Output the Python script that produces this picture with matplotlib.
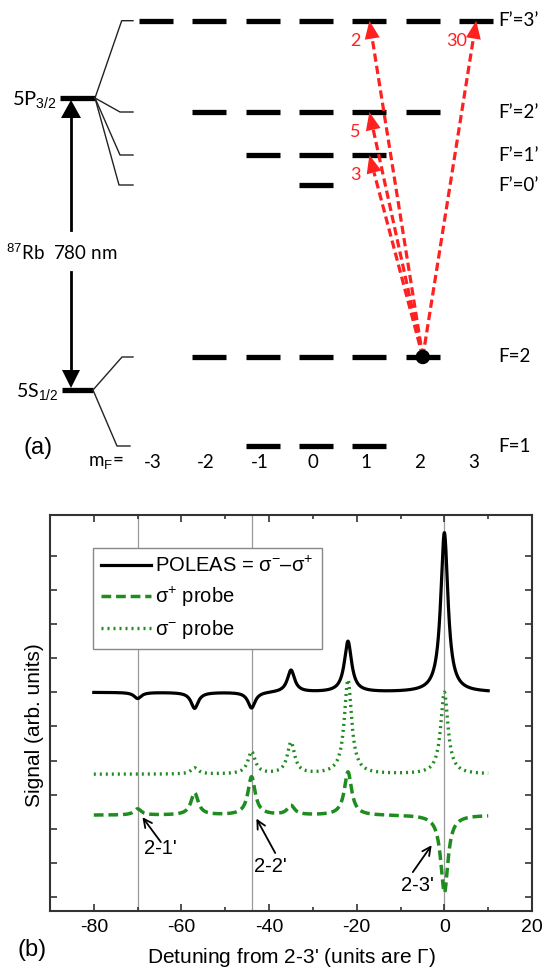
import numpy as np
import matplotlib
matplotlib.use('Agg')
import matplotlib.pyplot as plt
from matplotlib.patches import Polygon, Circle

plt.rcParams['font.family'] = ['Liberation Sans', 'DejaVu Sans']
plt.rcParams['mathtext.fontset'] = 'custom'
plt.rcParams['mathtext.rm'] = 'Liberation Sans'
plt.rcParams['mathtext.it'] = 'Liberation Sans:italic'
plt.rcParams['mathtext.bf'] = 'Liberation Sans:bold'
plt.rcParams['axes.unicode_minus'] = False

# ---------------- Panel (a) data ----------------
mF_values = [-3, -2, -1, 0, 1, 2, 3]
level_labels = ['F’=3’', 'F’=2’', 'F’=1’', 'F’=0’', 'F=2', 'F=1']
level_F = [3, 2, 1, 0, 2, 1]
transition_targets = [(0, 1), (0, 3), (1, 1), (2, 1)]   # (level index, mF')
transition_strengths = ['2', '30', '5', '3']
start_level, start_mF = 4, 2

# ---------------- Panel (b) data ----------------
peak_pos = [-70, -57, -44, -35, -22, 0]
sigma_plus_amp = [0.18, 0.65, 1.12, 0.27, 1.27, -2.28]
sigma_minus_amp = [0.0, 0.18, 0.65, 0.92, 2.76, 2.40]
hwhm = 1.0
offset_plus, offset_minus, offset_poleas = 2.4, 3.6, 6.0
transition_lines = [-70, -44, 0]
annot_labels = ["2-1'", "2-2'", "2-3'"]

# ---------------- layout (pixels) ----------------
W, H = 542, 969
fig = plt.figure(figsize=(W / 100, H / 100), dpi=100)
ax0 = fig.add_axes([0, 0, 1, 1])
ax0.set_xlim(0, W)
ax0.set_ylim(H, 0)
ax0.axis('off')

level_y = [20.7, 112, 155, 185, 357, 446]
x_mF0, dx_mF, half_dash = 316, 53.4, 17
level_font = ['Lato', 'DejaVu Sans']


def mfx(m):
    return x_mF0 + dx_mF * m


# sublevel dashes
for y, F in zip(level_y, level_F):
    for m in range(-F, F + 1):
        ax0.plot([mfx(m) - half_dash, mfx(m) + half_dash], [y, y], color='black',
                 lw=3.8, solid_capstyle='butt')
for y, lab in zip(level_y, level_labels):
    ax0.text(498, y, lab, fontsize=13.5, family=level_font, ha='left', va='center')

# fine structure levels and fan lines
p_y, s_y = 98, 390
ax0.plot([60, 95], [p_y, p_y], color='black', lw=3.8, solid_capstyle='butt')
ax0.plot([62, 93], [s_y, s_y], color='black', lw=3.8, solid_capstyle='butt')
for y, knee in zip(level_y[:4], [121.7, 120, 120, 119]):
    ax0.plot([95, knee, 133], [p_y, y, y], color='#222222', lw=1.0)
for y, knee, end in zip(level_y[4:], [122, 117], [133, 130]):
    ax0.plot([93, knee, end], [s_y, y, y], color='#222222', lw=1.0)


def head(ax, tip, tail, length, width, color):
    tip = np.array(tip, float)
    tail = np.array(tail, float)
    d = tip - tail
    d /= np.hypot(*d)
    n = np.array([-d[1], d[0]])
    base = tip - d * length
    ax.add_patch(Polygon([tip, base + n * width / 2, base - n * width / 2],
                         closed=True, color=color, lw=0, zorder=5))
    return base


# black 780 nm arrows
b = head(ax0, (71, 100), (71, 230), 18, 20, 'black')
ax0.plot([71, 71], [230, b[1]], color='black', lw=2.0)
b = head(ax0, (71, 388), (71, 272), 18, 18, 'black')
ax0.plot([71, 71], [272, b[1]], color='black', lw=2.0)

ax0.text(57, 100, r'5P$_{3/2}$', fontsize=14.5, family=level_font, ha='right', va='center')
ax0.text(58, 392, r'5S$_{1/2}$', fontsize=14, family=level_font, ha='right', va='center')
ax0.text(62, 253, r'$^{87}$Rb  780 nm', fontsize=13.5, family=level_font, ha='center', va='center')
ax0.text(38, 448, '(a)', fontsize=17, ha='center', va='center')
ax0.text(124, 462, r'm$_{\mathrm{F}}$=', fontsize=13.5, family=level_font, ha='right', va='center')
for m in mF_values:
    ax0.text(mfx(m) - 3, 462, str(m), fontsize=13.5, family=level_font, ha='center', va='center')

# red transitions
red = '#ff2020'
origin = (mfx(start_mF), level_y[start_level])
for (li, m), s in zip(transition_targets, transition_strengths):
    tip = (mfx(m), level_y[li])
    b = head(ax0, tip, origin, 18, 15, red)
    ax0.plot([origin[0], b[0]], [origin[1], b[1]], color=red, lw=2.3,
             dashes=[2.6, 1.3], solid_capstyle='butt', zorder=4)
    ax0.text(tip[0] - 9, tip[1] + 20, s, color=red, fontsize=13, family=level_font,
             ha='right', va='center')
ax0.add_patch(Circle(origin, 6.5, color='black', zorder=6))

# ---------------- Panel (b) ----------------
L, R, T, B = 50, 532, 515, 911
ax = fig.add_axes([L / W, 1 - B / H, (R - L) / W, (B - T) / H])

x = np.linspace(-80, 10, 4000)


def lor(amps):
    out = np.zeros_like(x)
    for p, a in zip(peak_pos, amps):
        out += a * hwhm ** 2 / ((x - p) ** 2 + hwhm ** 2)
    return out


sp = lor(sigma_plus_amp)
sm = lor(sigma_minus_amp)
green = '#1e8c1e'

for xl in transition_lines:
    ax.axvline(xl, color='#999999', lw=0.9, zorder=1)

ax.plot(x, offset_poleas + sm - sp, color='black', lw=2.3,
        label=r'POLEAS = σ$^{-}$–σ$^{+}$', zorder=3)
ax.plot(x, offset_plus + sp, color=green, lw=2.5, dashes=[2.8, 1.4],
        label=r'σ$^{+}$ probe', zorder=3)
ax.plot(x, offset_minus + sm, color=green, lw=2.4, dashes=[0.6, 1.2],
        label=r'σ$^{-}$ probe', zorder=3)

ax.set_xlim(-90, 20)
ax.set_ylim(-0.41, 11.2)
ax.set_xticks(np.arange(-80, 21, 20))
ax.set_xticks(np.arange(-70, 20, 20), minor=True)
ax.set_yticks(np.arange(0, 11, 1))
ax.set_yticklabels([])
ax.tick_params(which='both', direction='in', top=True, right=True, width=1.2,
               color='#333333', labelsize=14, pad=6)
ax.tick_params(which='major', length=5)
ax.tick_params(which='minor', length=3)
for sp_ in ax.spines.values():
    sp_.set_linewidth(1.5)
    sp_.set_color('#333333')

ax.set_xlabel("Detuning from 2-3' (units are $\\Gamma$)", fontsize=15, labelpad=7)
ax.set_ylabel('Signal (arb. units)', fontsize=15)
ax.yaxis.set_label_coords(-0.012, 0.47)
fig.text(32 / W, 1 - 950 / H, '(b)', fontsize=17, ha='center', va='center')

leg = ax.legend(loc='upper left', bbox_to_anchor=(0.089, 0.917), borderaxespad=0,
                fontsize=14.5, handlelength=2.5, handletextpad=0.2, labelspacing=0.45,
                borderpad=0.4, fancybox=False, edgecolor='#888888', framealpha=1)
leg.get_frame().set_linewidth(1.0)

annots = [((-68.9, 2.34), (-64.7, 1.61), (-64.9, 1.41)),
          ((-42.9, 2.30), (-38.6, 1.29), (-39.6, 0.89)),
          ((-2.9, 1.52), (-7.2, 0.73), (-6.1, 0.35))]
for lab, (tip, tail, tpos) in zip(annot_labels, annots):
    ax.annotate('', xy=tip, xytext=tail,
                arrowprops=dict(arrowstyle='->', lw=1.3, color='black',
                                shrinkA=0, shrinkB=0, mutation_scale=15))
    ax.text(tpos[0], tpos[1], lab, fontsize=14.5, ha='center', va='center')

fig.savefig('out.png', dpi=100)
